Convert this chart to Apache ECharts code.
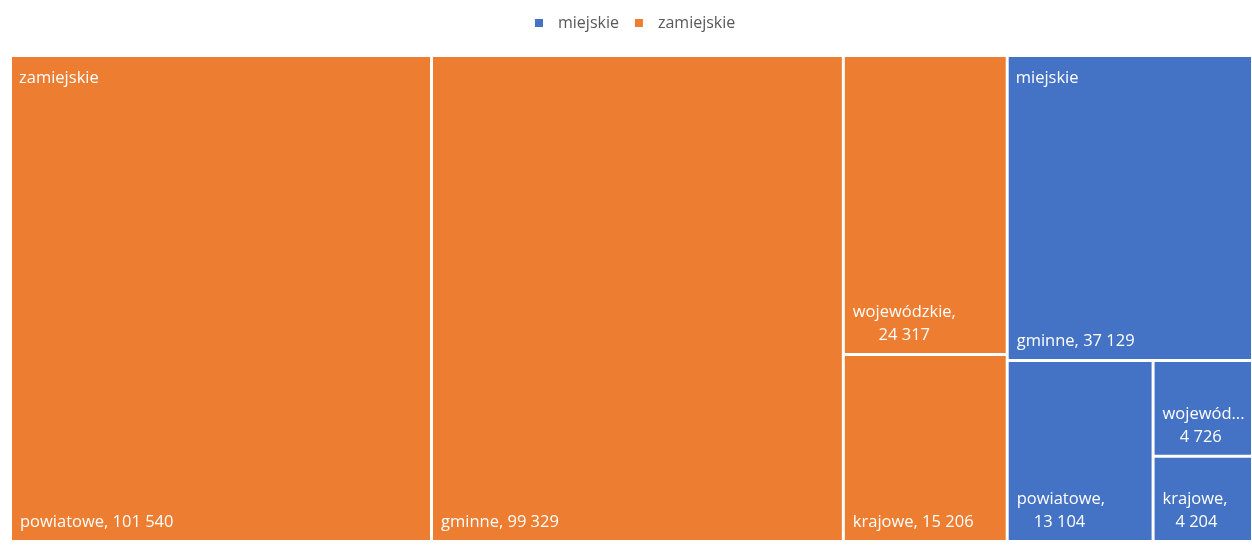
<!DOCTYPE html>
<html><head><meta charset="utf-8">
<script src="https://cdn.jsdelivr.net/npm/echarts@6/dist/echarts.min.js"></script>
<style>html,body{margin:0;padding:0;background:#fff}#c{width:1252px;height:548px}</style>
</head><body><div id="c"></div>
<script>
// ---- data ----
const groupNames = ['zamiejskie', 'miejskie'];
const roadCategories = ['powiatowe', 'gminne', 'wojewódzkie', 'krajowe'];
const zamiejskieValues = [101540, 99329, 24317, 15206];
const miejskieValues = [13104, 37129, 4726, 4204];
const legendLabels = ['miejskie', 'zamiejskie'];

// ---- styles ----
const COLORS = { zamiejskie: '#ED7D31', miejskie: '#4472C4' };
const FONT_FAMILY = '"Open Sans", sans-serif';
const FONT_SIZE = 16.5;
const PAD_L = 8, PAD_R = 2;

const seriesValues = { zamiejskie: zamiejskieValues, miejskie: miejskieValues };
function fmt(v) { return String(v).replace(/\B(?=(\d{3})+(?!\d))/g, ' '); }

const treeData = groupNames.map(g => ({
  name: g,
  itemStyle: { color: COLORS[g] },
  children: roadCategories.map((c, i) => ({ name: c, value: seriesValues[g][i], itemStyle: { color: COLORS[g] } }))
}));
const groupData = groupNames.map(g => ({ name: g, value: seriesValues[g].reduce((a, b) => a + b, 0) }));

const ctx = document.createElement('canvas').getContext('2d');
ctx.font = FONT_SIZE + 'px ' + FONT_FAMILY;
function tw(s) { return ctx.measureText(s).width; }

const chart = echarts.init(document.getElementById('c'), null, { renderer: 'canvas' });

function leafLabel(p) {
  const name = p.name, val = fmt(p.value);
  const one = name + ', ' + val;
  let avail = Infinity;
  try {
    const lay = chart.getModel().getSeriesByIndex(0).getData().getItemLayout(p.dataIndex);
    if (lay && lay.width) avail = lay.width - PAD_L - PAD_R;
  } catch (e) {}
  if (tw(one) <= avail - 6) return one;
  const first = name + ',';
  const w1 = Math.min(tw(first), avail - 6);
  const w2 = tw(val);
  const n = Math.max(0, Math.round((w1 - w2) / 2 / tw('\u00a0')));
  return first + '\n' + '\u00a0'.repeat(n) + val;
}

const box = { left: 12, top: 57, right: 1, bottom: 8 };

const option = {
  animation: false,
  legend: {
    data: legendLabels,
    left: 530, top: 10,
    icon: 'rect', itemWidth: 8, itemHeight: 8, itemGap: 16,
    selectedMode: false,
    textStyle: { color: '#595959', fontSize: 16, fontFamily: FONT_FAMILY, padding: [0, 0, 0, 10] }
  },
  series: [
    Object.assign({
      type: 'treemap', roam: false, nodeClick: false, breadcrumb: { show: false },
      data: treeData,
      emphasis: { disabled: true },
      label: {
        show: true, position: 'insideBottomLeft', distance: 0,
        color: '#fff', fontFamily: FONT_FAMILY, fontSize: FONT_SIZE, lineHeight: 23,
        padding: [0, PAD_R, 6, PAD_L], overflow: 'truncate', formatter: leafLabel
      },
      upperLabel: { show: false },
      itemStyle: { borderWidth: 0, gapWidth: 3, borderColor: '#fff' },
      levels: [
        { itemStyle: { borderWidth: 0, gapWidth: 3, borderColor: '#fff' } },
        { itemStyle: { borderWidth: 0, gapWidth: 3, borderColor: '#fff' } },
        { itemStyle: { borderWidth: 0 } }
      ]
    }, box),
    Object.assign({
      type: 'treemap', roam: false, nodeClick: false, silent: true, breadcrumb: { show: false },
      data: groupData, z: 5,
      emphasis: { disabled: true },
      label: {
        show: true, position: 'insideTopLeft', distance: 0,
        color: '#fff', fontFamily: FONT_FAMILY, fontSize: FONT_SIZE, lineHeight: 23,
        padding: [10, 8, 0, 7], formatter: '{b}'
      },
      itemStyle: { color: 'transparent', borderWidth: 0, gapWidth: 3, borderColor: 'transparent' },
      levels: [
        { itemStyle: { borderWidth: 0, gapWidth: 3, borderColor: 'transparent' } },
        { itemStyle: { color: 'transparent', borderWidth: 0, borderColor: 'transparent' } }
      ]
    }, box),
    {
      type: 'pie', radius: [0, 0], center: [-50, -50], silent: true,
      label: { show: false }, labelLine: { show: false },
      data: legendLabels.map(n => ({ name: n, value: 1, itemStyle: { color: COLORS[n] } }))
    }
  ]
};
chart.setOption(option);
</script>
</body></html>
